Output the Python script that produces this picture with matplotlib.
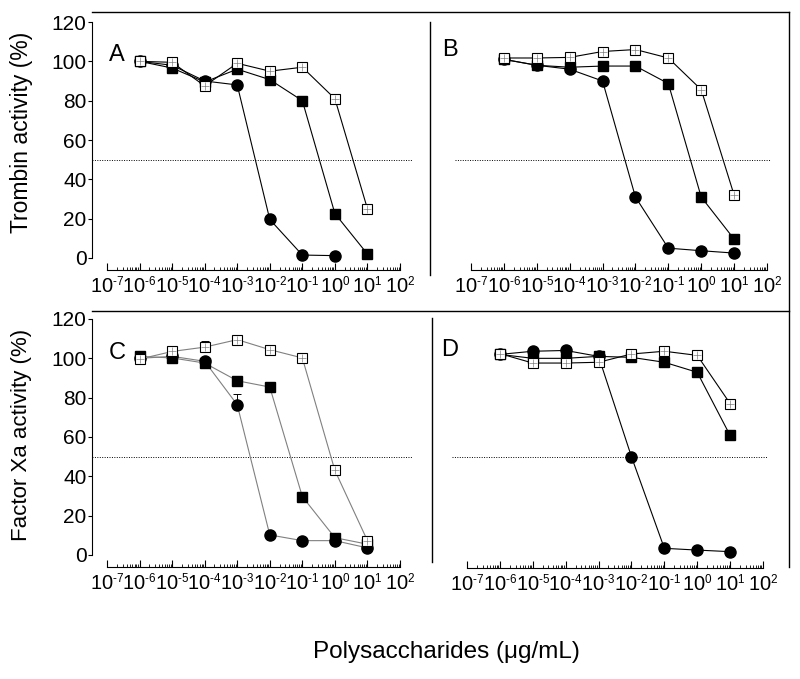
import numpy as np
import matplotlib
matplotlib.use("Agg")
import matplotlib.pyplot as plt
from matplotlib.ticker import FixedLocator, FixedFormatter, NullFormatter
from matplotlib.lines import Line2D
try:
    import matplotlib._mathtext as _mt
    _mt.SHRINK_FACTOR = 0.58
except Exception:
    pass

plt.rcParams['font.family'] = ['Liberation Sans', 'DejaVu Sans']
plt.rcParams['mathtext.fontset'] = 'custom'
plt.rcParams['mathtext.rm'] = 'Liberation Sans'
plt.rcParams['mathtext.it'] = 'Liberation Sans:italic'
plt.rcParams['mathtext.bf'] = 'Liberation Sans:bold'

# ---------------- data ----------------
conc = [1e-6, 1e-5, 1e-4, 1e-3, 1e-2, 1e-1, 1e0, 1e1]

# Panel A (thrombin)
A_circle = [100, 98, 90, 88, 19.6, 1.5, 1.2]
A_fsq = [100, 96.6, 89.5, 96, 90.7, 80, 22.6, 2]
A_osq = [100, 99.5, 87.5, 99, 95, 97, 81, 25]

# Panel B (thrombin)
B_circle = [101, 98, 96, 90, 31, 5, 3.7, 2.5]
B_fsq = [101, 98, 97, 97.6, 97.6, 88.7, 31, 9.6]
B_osq = [101.7, 101.7, 102, 105, 106, 101.7, 85.6, 32]

# Panel C (factor Xa)
C_circle = [100, 101, 98.5, 76.4, 10.2, 7.3, 7.3, 3.6]
C_circle_err = [0, 0, 0, 5.5, 0, 0, 0, 0]
C_fsq = [101, 100.2, 97.6, 88.6, 85.4, 29.7, 8.8, 5.5]
C_osq = [99.6, 103.5, 105.7, 109.5, 104.4, 100.2, 43, 7.3]
C_osq_err = [0, 0, 3, 0, 0, 0, 0, 0]

# Panel D (factor Xa)
D_circle = [102, 103.6, 104, 101, 50, 3.4, 2.5, 1.7]
D_fsq = [102, 100, 100, 101, 100.5, 98, 92.9, 60.8]
D_fsq_err = [0, 0, 0, 0, 0, 0, 2.5, 3]
D_osq = [102.4, 97.6, 97.6, 98, 102.2, 103.6, 101.5, 77]

ref_level = 50
yticks = [0, 20, 40, 60, 80, 100, 120]
xtick_exps = [-7, -6, -5, -4, -3, -2, -1, 0, 1, 2]
panel_letters = ['A', 'B', 'C', 'D']
ylabel_top = 'Trombin activity (%)'
ylabel_bottom = 'Factor Xa activity (%)'
xlabel = 'Polysaccharides (μg/mL)'

# ---------------- layout ----------------
W, H = 800, 679
fig = plt.figure(figsize=(W / 100, H / 100), dpi=100)


def fx(px):
    return px / W


def fy(py):
    return 1 - py / H


# geometry per panel: (x of 1e-7, x of 1e2, y of 0, y of 120, x-axis y, left, right, top)
geoms = [
    (107, 400, 258, 22, 270, 92, 412, 12),
    (471, 767, 258, 22, 270, 455, 771, 12),
    (107, 400, 555, 319, 567, 92, 412, 311),
    (467, 763, 555, 319, 568, 452, 767, 311),
]


def make_axes(g, show_y):
    xa, xb, y0, y120, yaxis, left, right, top = g
    ax = fig.add_axes([fx(left), fy(yaxis), fx(right - left), (yaxis - top) / H])
    ppd = (xb - xa) / 9.0
    ax.set_xscale('log')
    ax.set_xlim(10 ** (-7 + (left - xa) / ppd), 10 ** (-7 + (right - xa) / ppd))
    ppu = (y0 - y120) / 120.0
    ax.set_ylim(-(yaxis - y0) / ppu, (y0 - top) / ppu)
    for s in ['top', 'right']:
        ax.spines[s].set_visible(False)
    ax.spines['bottom'].set_bounds(10.0 ** xtick_exps[0], 10.0 ** xtick_exps[-1])
    ax.spines['bottom'].set_linewidth(0.8)
    ax.xaxis.set_major_locator(FixedLocator([10.0 ** e for e in xtick_exps]))
    labels = []
    for e in xtick_exps:
        if e < 0:
            labels.append(r'$\mathdefault{10^{\text{-}%d}}$' % (-e))
        else:
            labels.append(r'$\mathdefault{10^{%d}}$' % e)
    ax.xaxis.set_major_formatter(FixedFormatter(labels))
    minor = [m * 10.0 ** e for e in xtick_exps[:-1] for m in range(2, 10)]
    ax.xaxis.set_minor_locator(FixedLocator(minor))
    ax.xaxis.set_minor_formatter(NullFormatter())
    ax.tick_params(axis='x', which='major', direction='in', length=5, width=0.8,
                   labelsize=14.5, pad=4)
    ax.tick_params(axis='x', which='minor', direction='in', length=2.5, width=0.6)
    if show_y:
        ax.spines['left'].set_bounds(0, 120)
        ax.spines['left'].set_linewidth(0.8)
        ax.set_yticks(yticks)
        ax.tick_params(axis='y', direction='out', length=3, width=0.8, labelsize=15, pad=1)
    else:
        ax.spines['left'].set_visible(False)
        ax.set_yticks([])
    ax.patch.set_visible(False)
    return ax


def draw_panel(ax, circ, fsq, osq, lc, circ_err=None, fsq_err=None, osq_err=None):
    ax.axhline(ref_level, color='black', lw=0.7, ls=(0, (1, 1.5)), zorder=1)
    xc = conc[:len(circ)]
    if circ_err is not None:
        ax.errorbar(xc, circ, yerr=[np.zeros(len(circ)), circ_err], fmt='none',
                    ecolor='black', elinewidth=0.7, capsize=3, capthick=0.7, zorder=2)
    if fsq_err is not None:
        ax.errorbar(conc, fsq, yerr=[np.zeros(len(fsq)), fsq_err], fmt='none',
                    ecolor='black', elinewidth=0.7, capsize=3, capthick=0.7, zorder=2)
    if osq_err is not None:
        ax.errorbar(conc, osq, yerr=[np.zeros(len(osq)), osq_err], fmt='none',
                    ecolor='black', elinewidth=0.7, capsize=3, capthick=0.7, zorder=2)
    ax.plot(xc, circ, color=lc, lw=0.8, marker='o', ms=8, mfc='black', mec='black', zorder=3)
    ax.plot(conc, fsq, color=lc, lw=0.8, marker='s', ms=6.8, mfc='black', mec='black', zorder=4)
    ax.plot(conc, osq, color=lc, lw=0.8, marker='s', ms=6.8, mfc='white', mec='black',
            mew=0.8, zorder=5)
    ax.plot(conc, osq, ls='none', marker='+', ms=6.2, mec='#808080', mew=0.5, zorder=6)


axA = make_axes(geoms[0], True)
draw_panel(axA, A_circle, A_fsq, A_osq, 'black')
axB = make_axes(geoms[1], False)
draw_panel(axB, B_circle, B_fsq, B_osq, 'black')
axC = make_axes(geoms[2], True)
draw_panel(axC, C_circle, C_fsq, C_osq, '#808080', circ_err=C_circle_err, osq_err=C_osq_err)
axD = make_axes(geoms[3], False)
draw_panel(axD, D_circle, D_fsq, D_osq, 'black', fsq_err=D_fsq_err)

# frame and divider lines
frame = [
    ((92, 789), (12, 12)),
    ((789, 789), (12, 567)),
    ((92, 789), (311, 311)),
    ((430, 430), (22, 275)),
    ((432, 432), (318, 562)),
]
for xs, ys in frame:
    fig.add_artist(Line2D([fx(xs[0]), fx(xs[1])], [fy(ys[0]), fy(ys[1])],
                          transform=fig.transFigure, color='black', lw=1.0))

# panel letters
letter_pos = [(117, 55), (450, 50), (117, 353), (450, 350)]
for (px, py), lt in zip(letter_pos, panel_letters):
    fig.text(fx(px), fy(py), lt, fontsize=17, ha='center', va='center')

fig.text(fx(22), fy(132), ylabel_top, rotation=90, fontsize=16.5, ha='center', va='center')
fig.text(fx(22), fy(435), ylabel_bottom, rotation=90, fontsize=16, ha='center', va='center')
fig.text(fx(446), fy(652), xlabel, fontsize=17.5, ha='center', va='center')

fig.savefig('out.png', dpi=100)
